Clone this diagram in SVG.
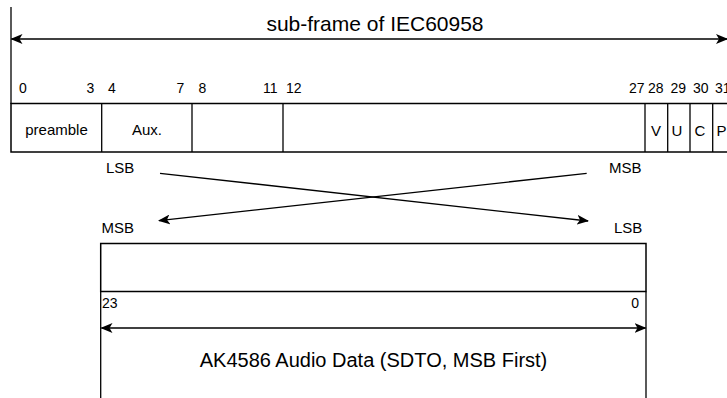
<svg xmlns="http://www.w3.org/2000/svg" width="727" height="398" viewBox="0 0 727 398">
<style>
  text { font-family: "Liberation Sans", Arial, sans-serif; fill: #000; }
  .t21 { font-size: 21px; }
  .t20 { font-size: 20px; }
  .t15 { font-size: 15px; }
  .t14 { font-size: 14px; }
  .mid { text-anchor: middle; }
  .end { text-anchor: end; }
  .box { fill: #fff; stroke: #000; stroke-width: 1.5; }
  .ln { stroke: #000; stroke-width: 1.3; fill: none; }
</style>
<defs>
  <marker id="arr" viewBox="0 0 12 10" refX="11" refY="5" markerWidth="12" markerHeight="10" markerUnits="userSpaceOnUse" orient="auto-start-reverse">
    <path d="M0,0 L12,5 L0,10 L3,5 Z" fill="#000"/>
  </marker>
</defs>
<rect width="727" height="398" fill="#fff"/>

<g id="subframe-dimension">
  <line class="ln" x1="11" y1="7" x2="11" y2="104"/>
  <line class="ln" x1="11.5" y1="39" x2="727" y2="39" marker-start="url(#arr)" marker-end="url(#arr)"/>
  <text class="t21 mid" x="375" y="31">sub-frame of IEC60958</text>
</g>

<g id="bit-numbers">
  <text class="t14" x="19" y="93">0</text>
  <text class="t14" x="86.5" y="93">3</text>
  <text class="t14" x="108" y="93">4</text>
  <text class="t14" x="176.5" y="93">7</text>
  <text class="t14" x="198.5" y="93">8</text>
  <text class="t14" x="263" y="93">11</text>
  <text class="t14" x="286" y="93">12</text>
  <text class="t14" x="629" y="93">27</text>
  <text class="t14" x="648" y="93">28</text>
  <text class="t14" x="670.5" y="93">29</text>
  <text class="t14" x="693" y="93">30</text>
  <text class="t14" x="715" y="93">31</text>
</g>

<g id="subframe">
  <rect class="box" x="11" y="103.5" width="730" height="48.5"/>
  <line class="ln" x1="101.7" y1="103.5" x2="101.7" y2="152" stroke-width="1.5"/>
  <line class="ln" x1="192" y1="103.5" x2="192" y2="152" stroke-width="1.5"/>
  <line class="ln" x1="283" y1="103.5" x2="283" y2="152" stroke-width="1.5"/>
  <line class="ln" x1="645" y1="103.5" x2="645" y2="152" stroke-width="1.5"/>
  <line class="ln" x1="667.7" y1="103.5" x2="667.7" y2="152" stroke-width="1.5"/>
  <line class="ln" x1="690" y1="103.5" x2="690" y2="152" stroke-width="1.5"/>
  <line class="ln" x1="712.7" y1="103.5" x2="712.7" y2="152" stroke-width="1.5"/>
</g>
<g id="field-preamble"><text class="t15 mid" x="56.5" y="135">preamble</text></g>
<g id="field-aux"><text class="t15 mid" x="147" y="135">Aux.</text></g>
<g id="field-v"><text class="t15 mid" x="656" y="136">V</text></g>
<g id="field-u"><text class="t15 mid" x="677" y="136">U</text></g>
<g id="field-c"><text class="t15 mid" x="700" y="136">C</text></g>
<g id="field-p"><text class="t15" x="716.5" y="136">P</text></g>

<g id="labels">
  <text class="t15" x="106" y="172.5">LSB</text>
  <text class="t15" x="609" y="172.5">MSB</text>
  <text class="t15" x="101.5" y="233">MSB</text>
  <text class="t15" x="614" y="233">LSB</text>
</g>

<g id="connectors">
  <line class="ln" x1="160" y1="173.3" x2="588" y2="221" marker-end="url(#arr)"/>
  <line class="ln" x1="586.7" y1="173.3" x2="159" y2="220.7" marker-end="url(#arr)"/>
</g>

<g id="audio-data">
  <rect class="box" x="100.7" y="243.5" width="545.3" height="48"/>
  <line class="ln" x1="100.7" y1="291.5" x2="100.7" y2="398"/>
  <line class="ln" x1="646" y1="291.5" x2="646" y2="398"/>
  <text class="t14" x="102" y="308">23</text>
  <text class="t14 end" x="639" y="308">0</text>
  <line class="ln" x1="101.5" y1="328" x2="645.5" y2="328" marker-start="url(#arr)" marker-end="url(#arr)"/>
  <text class="t20 mid" x="373.5" y="367">AK4586 Audio Data (SDTO, MSB First)</text>
</g>
</svg>
